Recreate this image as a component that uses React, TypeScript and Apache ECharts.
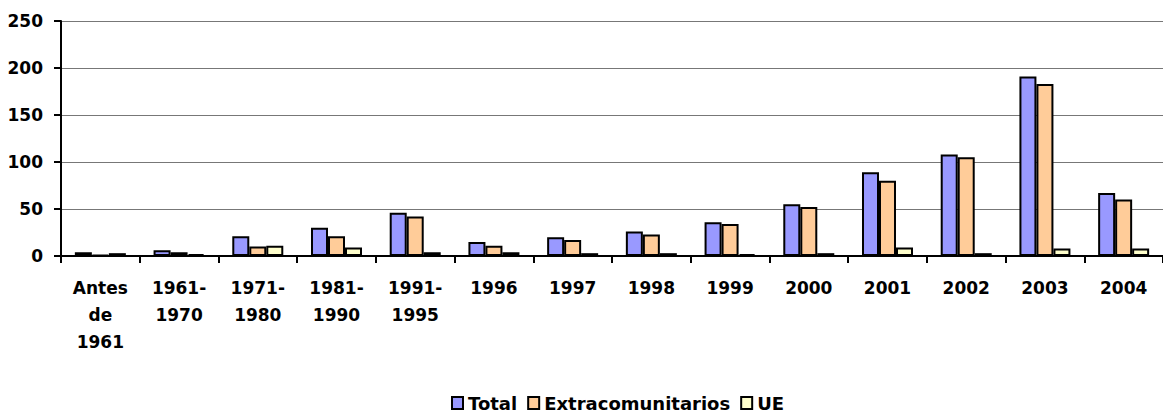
import React, { useEffect, useRef } from "react";
import * as echarts from "echarts";

const categories = [
  "Antes de 1961",
  "1961-1970",
  "1971-1980",
  "1981-1990",
  "1991-1995",
  "1996",
  "1997",
  "1998",
  "1999",
  "2000",
  "2001",
  "2002",
  "2003",
  "2004",
];
const totalValues = [4, 6, 21, 30, 46, 15, 20, 26, 36, 55, 89, 108, 191, 67];
const extraValues = [1, 4, 10, 21, 42, 11, 17, 23, 34, 52, 80, 105, 183, 60];
const ueValues = [3, 2, 11, 9, 4, 4, 3, 3, 2, 3, 9, 3, 8, 8];
const seriesNames = ["Total", "Extracomunitarios", "UE"];
const seriesColors = ["#9999FF", "#FFCC99", "#FFFFCC"];

const FONT = "DejaVu Sans";

export default function App() {
  const ref = useRef<HTMLDivElement>(null);
  useEffect(() => {
    document.body.style.margin = "0";
    if (!ref.current) return;
    const chart = echarts.init(ref.current, null, { renderer: "svg" });
    const data = [totalValues, extraValues, ueValues];
    chart.setOption({
      animation: false,
      backgroundColor: "#ffffff",
      grid: { left: 61, top: 21, width: 1108, bottom: 156, containLabel: false },
      legend: {
        data: seriesNames,
        left: 446,
        top: 389,
        icon: "rect",
        itemWidth: 11,
        itemHeight: 12,
        itemGap: 10,
        textStyle: { fontFamily: FONT, fontWeight: "bold", fontSize: 18, color: "#000" },
      },
      xAxis: {
        type: "category",
        data: categories,
        axisLine: { lineStyle: { color: "#000", width: 2 } },
        axisTick: { show: true, length: 7, lineStyle: { color: "#000", width: 2 } },
        axisLabel: {
          interval: 0,
          margin: 18,
          fontFamily: FONT,
          fontWeight: "bold",
          fontSize: 17,
          lineHeight: 27,
          color: "#000",
          formatter: (v: string) => v.replace(/ /g, "\n").replace("-", "-\n"),
        },
      },
      yAxis: {
        type: "value",
        min: 0,
        max: 250,
        interval: 50,
        axisLine: { show: true, lineStyle: { color: "#000", width: 2 } },
        axisTick: { show: true, length: 7, lineStyle: { color: "#000", width: 2 } },
        axisLabel: {
          margin: 18,
          fontFamily: FONT,
          fontWeight: "bold",
          fontSize: 17,
          color: "#000",
        },
        splitLine: { lineStyle: { color: "#777777", width: 1 } },
      },
      series: seriesNames.map((name, i) => ({
        name,
        type: "bar",
        data: data[i],
        barWidth: 17,
        barGap: "0%",
        itemStyle: { color: seriesColors[i], borderColor: "#000", borderWidth: 2 },
      })),
    });
    return () => chart.dispose();
  }, []);
  return <div ref={ref} style={{ width: 1163, height: 412 }} />;
}
